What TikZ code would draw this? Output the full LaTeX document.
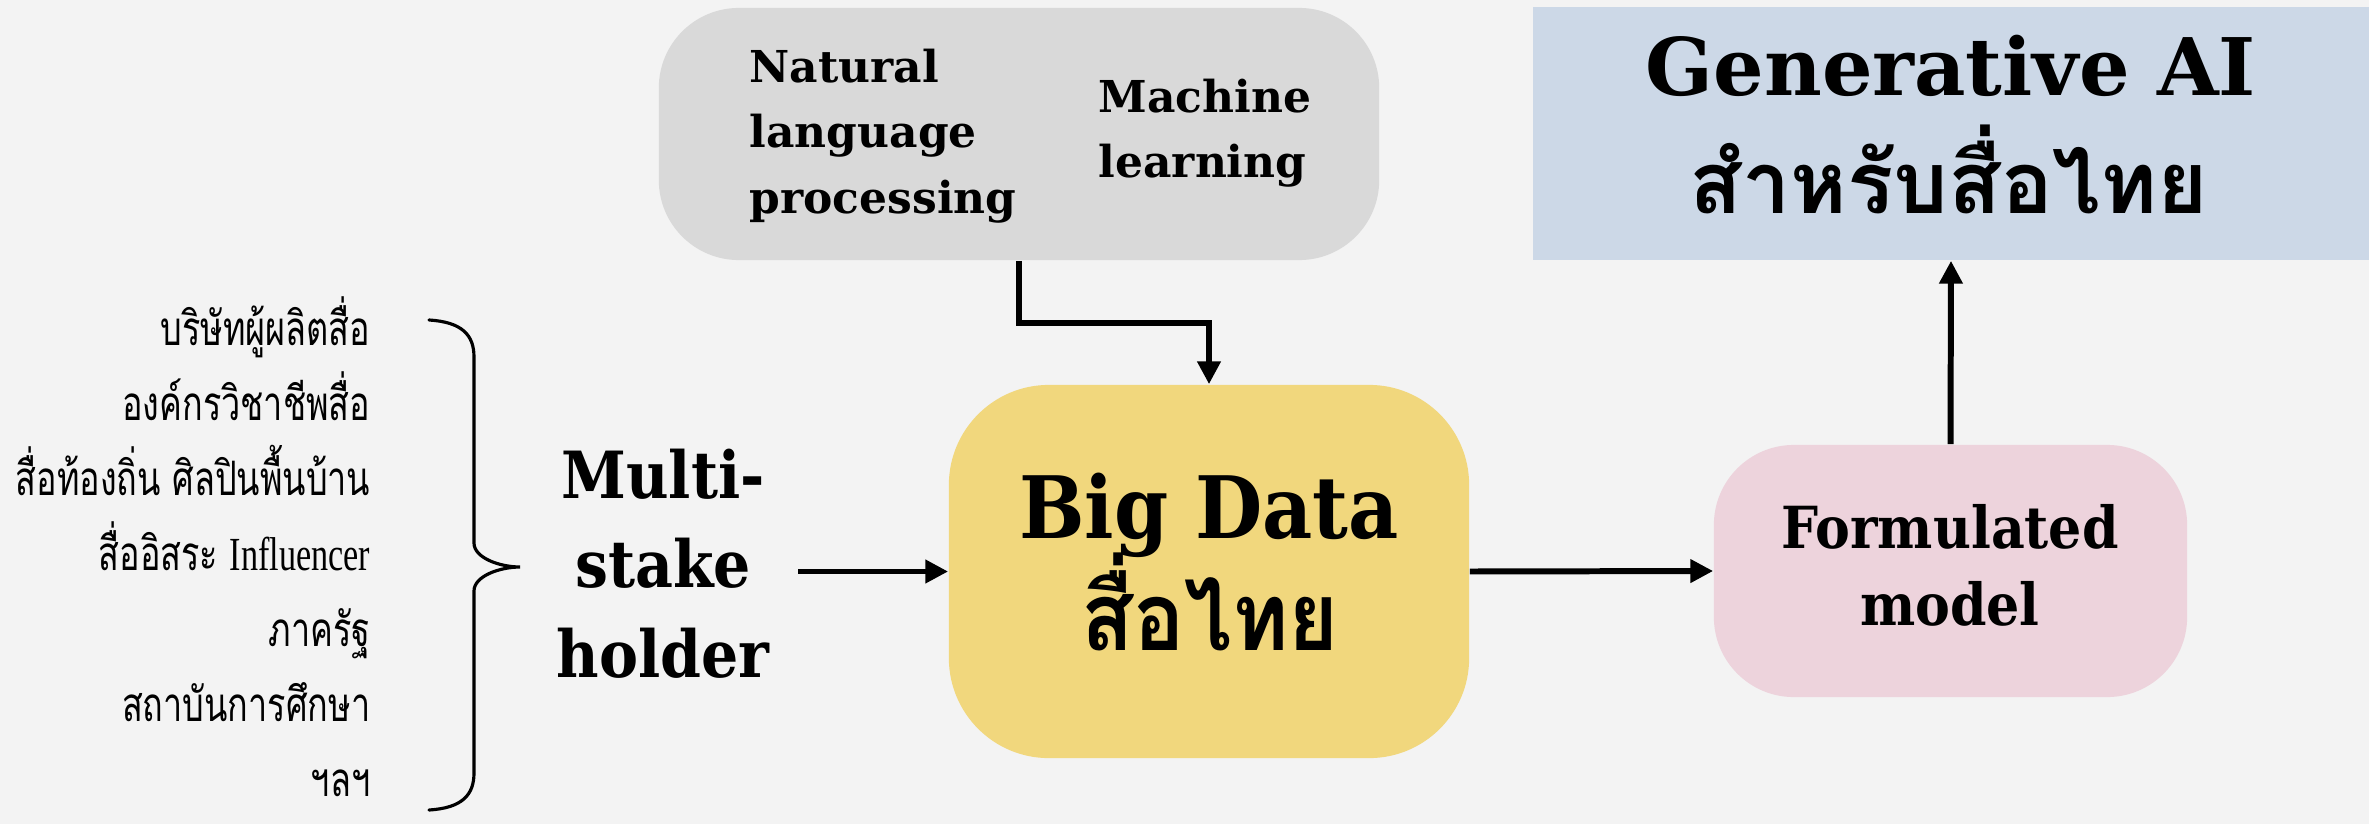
\documentclass[tikz,border=0pt]{standalone}
\usepackage{fontspec}
\setmainfont{DejaVu Serif}
\newfontfamily\slab{DejaVu Serif}
\newfontfamily\slabc{DejaVu Serif}[FakeStretch=0.9]
\newfontfamily\thai[Script=Thai]{Loma}
\newfontfamily\thaic[Script=Thai,FakeStretch=0.72]{Loma}
\newfontfamily\thaib[Script=Thai,FakeStretch=0.9]{Loma}
\newfontfamily\lserif{Liberation Serif}[FakeStretch=0.72]
\usetikzlibrary{arrows.meta}
\definecolor{bgc}{HTML}{F3F3F3}
\definecolor{grayc}{HTML}{D9D9D9}
\definecolor{yellowc}{HTML}{F1D77D}
\definecolor{pinkc}{HTML}{EDD3DC}
\definecolor{bluec}{HTML}{CCD8E7}
\begin{document}
\begin{tikzpicture}[x=0.01cm,y=-0.01cm,
  box/.style={rectangle, inner sep=0pt, draw=none},
  txt/.style={inner sep=0pt, text=black},
  graytxt/.style={txt, font=\slab\bfseries\fontsize{12.5}{18}\selectfont, anchor=base west},
  listtxt/.style={txt, font=\thaic\fontsize{13.5}{16}\selectfont, anchor=base east},
  multitxt/.style={txt, font=\slabc\bfseries\fontsize{18.5}{25}\selectfont, anchor=base},
  arr/.style={-{Triangle[length=6.5pt,width=6.4pt]}, line width=1.7pt},
  bracestyle/.style={line width=0.9pt, line cap=round}]
\useasboundingbox (0,0) rectangle (2369,824);
\fill[bgc] (0,0) rectangle (2369,824);

% boxes
\node[box, fill=grayc, rounded corners=0.8cm, minimum width=7.2cm, minimum height=2.52cm] (ml) at (1019,134) {};
\node[box, fill=yellowc, rounded corners=1cm, minimum width=5.2cm, minimum height=3.73cm] (bigdata) at (1209,571.5) {};
\node[box, fill=pinkc, rounded corners=0.8cm, minimum width=4.73cm, minimum height=2.52cm] (model) at (1950.5,571) {};
\node[box, fill=bluec, minimum width=8.36cm, minimum height=2.53cm] (genai) at (1951,133.5) {};

% gray box texts
\node[graytxt] (nlp1) at (749,82) {Natural};
\node[graytxt] (nlp2) at (749,147) {language};
\node[graytxt] (nlp3) at (749,213) {processing};
\node[graytxt] (mlt1) at (1098,112) {Machine};
\node[graytxt] (mlt2) at (1098,177) {learning};

% big data texts
\node[txt, font=\slabc\bfseries\fontsize{24.5}{30}\selectfont, anchor=base] (bd1) at (1209,538) {Big Data};
\node[txt, font=\thaib\bfseries\fontsize{27}{32}\selectfont, anchor=base] (bd2) at (1210,650) {สื่อไทย};

% formulated model
\node[txt, font=\slabc\bfseries\fontsize{16.5}{21}\selectfont, anchor=base] (fm1) at (1950,548) {Formulated};
\node[txt, font=\slabc\bfseries\fontsize{16.5}{21}\selectfont, anchor=base] (fm2) at (1950,625) {model};

% generative AI
\node[txt, font=\slab\bfseries\fontsize{22.6}{28}\selectfont, anchor=base] (ga1) at (1951,95) {Generative AI};
\node[txt, font=\thai\bfseries\fontsize{24.5}{30}\selectfont, anchor=base] (ga2) at (1949,213) {สำหรับสื่อไทย};

% multi-stake holder
\node[multitxt] (ms1) at (663,498) {Multi-};
\node[multitxt] (ms2) at (663,587) {stake};
\node[multitxt] (ms3) at (663,677) {holder};

% list
\node[listtxt] (l1) at (371,345) {บริษัทผู้ผลิตสื่อ};
\node[listtxt] (l2) at (371,420.3) {องค์กรวิชาชีพสื่อ};
\node[listtxt] (l3) at (371,495.6) {สื่อท้องถิ่น ศิลปินพื้นบ้าน};
\node[listtxt] (l4) at (371,570.9) {สื่ออิสระ {\lserif Influencer}};
\node[listtxt] (l5) at (371,646.2) {ภาครัฐ};
\node[listtxt] (l6) at (371,721.5) {สถาบันการศึกษา};
\node[listtxt] (l7) at (371,796.8) {ฯลฯ};

% brace
\draw[bracestyle] (429,320) .. controls (462,322) and (474,335) .. (474,357) -- (474,543)
  .. controls (474,558) and (500,567) .. (520,567)
  .. controls (500,567) and (474,576) .. (474,591) -- (474,773)
  .. controls (474,795) and (462,808) .. (429,810);

% connectors
\coordinate (msout) at (798,571.5);
\draw[arr] (ml.south) -- ++(0,62) -| (bigdata.north);
\draw[arr] (msout) -- (bigdata.west);
\draw[arr] (bigdata.east) -- (model.west);
\draw[arr] (model.north) -- (genai.south);
\end{tikzpicture}
\end{document}
